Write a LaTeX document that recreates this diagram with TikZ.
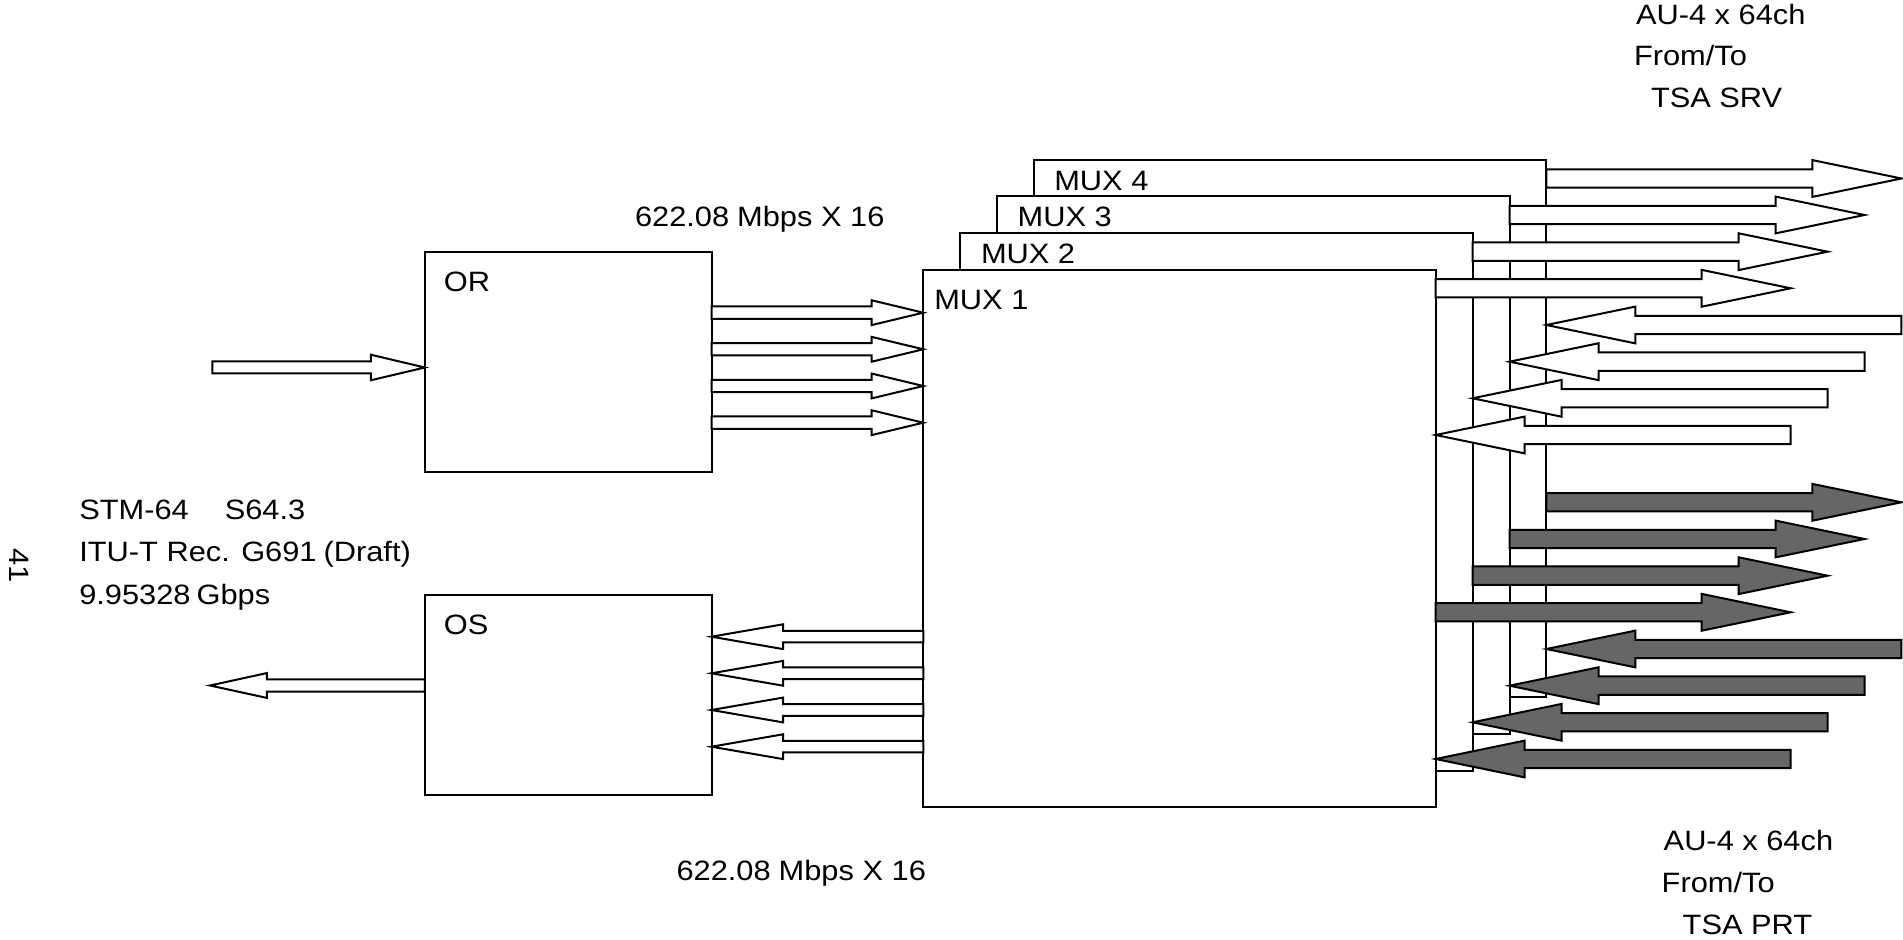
\documentclass[tikz,border=0pt]{standalone}
\usepackage{fontspec}
\setmainfont{Liberation Sans}[FakeStretch=1.1]
\usetikzlibrary{calc}
\definecolor{arrowgray}{HTML}{666666}
\begin{document}
\begin{tikzpicture}[x=0.5pt,y=-0.5pt, line width=1pt,
  box/.style={draw, fill=white, inner sep=0pt, outer sep=0pt, anchor=north west},
  txt/.style={inner sep=0pt, anchor=base west, font=\fontsize{14pt}{21pt}\selectfont},
  blk/.style n args={3}{to path={let \p1=(\tikztostart),\p2=(\tikztotarget),\n1={2*(\x2>\x1)-1} in
    (\x1,{\y1+#1}) -- ({\x2-\n1*#3},{\y1+#1}) -- ({\x2-\n1*#3},{\y1+#2}) -- (\x2,\y1) -- ({\x2-\n1*#3},{\y1-#2}) -- ({\x2-\n1*#3},{\y1-#1}) -- (\x1,{\y1-#1}) -- cycle}},
  bigarr/.style={blk={4.6pt}{9.2pt}{44.5pt}, draw, fill=white},
  bigfill/.style={blk={4.6pt}{9.2pt}{44.5pt}, draw, fill=arrowgray},
  orarr/.style={blk={3.1pt}{6.2pt}{25.8pt}, draw, fill=white},
  osarr/.style={blk={2.9pt}{6.2pt}{35.8pt}, draw, fill=white},
  inarr/.style={blk={3pt}{6.4pt}{27pt}, draw, fill=white},
  outarr/.style={blk={3.1pt}{6.2pt}{28.4pt}, draw, fill=white}
]
\useasboundingbox (0,0) rectangle (1903,940);

% boxes
\node[box, minimum width=143.35pt, minimum height=110pt] (OR) at (424.8,252) {};
\node[box, minimum width=143.35pt, minimum height=100.4pt] (OS) at (424.8,594.7) {};
\node[box, minimum width=256.2pt, minimum height=268.75pt] (mux4) at (1034.0,159.6) {};
\node[box, minimum width=256.2pt, minimum height=268.75pt] (mux3) at (997.1,196.4) {};
\node[box, minimum width=256.2pt, minimum height=268.75pt] (mux2) at (960.2,233.2) {};
\node[box, minimum width=256.2pt, minimum height=268.75pt] (mux1) at (923.3,270) {};

% labels in boxes
\node[txt] at ($(OR.north west)+(18,40)$) {OR};
\node[txt] at ($(OS.north west)+(18,40)$) {OS};
\node[txt] at ($(mux1.north west)+(10,39.5)$) {MUX 1};
\node[txt] at ($(mux2.north west)+(19.8,30)$) {MUX 2};
\node[txt] at ($(mux3.north west)+(19.6,29.8)$) {MUX 3};
\node[txt] at ($(mux4.north west)+(19.3,30.5)$) {MUX 4};

% right side arrows
\foreach \k/\yy in {4/178.5,3/215,2/251.7,1/288.3}{
  \coordinate (srvo\k) at ($(mux\k.east |- 0,\yy)+(355,0)$);
  \coordinate (muxo\k) at (mux\k.east |- 0,\yy);
  \draw[bigarr] (muxo\k) to (srvo\k);
}
\foreach \k/\yy in {4/325,3/361.7,2/398.3,1/435}{
  \coordinate (srvi\k) at ($(mux\k.east |- 0,\yy)+(355,0)$);
  \coordinate (muxi\k) at (mux\k.east |- 0,\yy);
  \draw[bigarr] (srvi\k) to (muxi\k);
}
\foreach \k/\yy in {4/502.3,3/539,2/575.7,1/612.3}{
  \coordinate (prto\k) at ($(mux\k.east |- 0,\yy)+(355,0)$);
  \coordinate (muxpo\k) at (mux\k.east |- 0,\yy);
  \draw[bigfill] (muxpo\k) to (prto\k);
}
\foreach \k/\yy in {4/649,3/685.7,2/722.3,1/759}{
  \coordinate (prti\k) at ($(mux\k.east |- 0,\yy)+(355,0)$);
  \coordinate (muxpi\k) at (mux\k.east |- 0,\yy);
  \draw[bigfill] (prti\k) to (muxpi\k);
}

% OR -> MUX1 and MUX1 -> OS
\foreach \i/\yy in {1/312.7,2/349.3,3/386,4/422.7}{
  \coordinate (ora\i) at (OR.east |- 0,\yy);
  \coordinate (orb\i) at (mux1.west |- 0,\yy);
  \draw[orarr] (ora\i) to (orb\i);
}
\foreach \i/\yy in {1/636.7,2/673.3,3/710,4/746.7}{
  \coordinate (osa\i) at (mux1.west |- 0,\yy);
  \coordinate (osb\i) at (OS.east |- 0,\yy);
  \draw[osarr] (osa\i) to (osb\i);
}

% line in / out
\coordinate (stmin) at (212.3,367.5);
\coordinate (stmout) at (210,685.5);
\coordinate (orin) at (OR.west |- stmin);
\coordinate (osout) at (OS.west |- stmout);
\draw[inarr] (stmin) to (orin);
\draw[outarr] (osout) to (stmout);

% texts
\node[txt] at (634,227) {622.08\hspace{4pt}Mbps X 16};
\node[txt] at (675.5,880.5) {622.08\hspace{4pt}Mbps X 16};
\node[txt] at (78.3,519.5) {STM-64\hspace{18pt}S64.3};
\node[txt] at (78.3,562) {ITU-T Rec. G691\hspace{3.5pt}(Draft)};
\node[txt] at (78.3,604.5) {9.95328\hspace{3pt}Gbps};
\node[txt, anchor=center, rotate=-90] at (19,566) {41};
\node[txt] at (1635,25) {AU-4 x 64ch};
\node[txt] at (1633,66) {From/To};
\node[txt] at (1650,108) {TSA SRV};
\node[txt] at (1662.7,850.5) {AU-4 x 64ch};
\node[txt] at (1660.7,893) {From/To};
\node[txt] at (1681.7,935) {TSA PRT};
\end{tikzpicture}
\end{document}
